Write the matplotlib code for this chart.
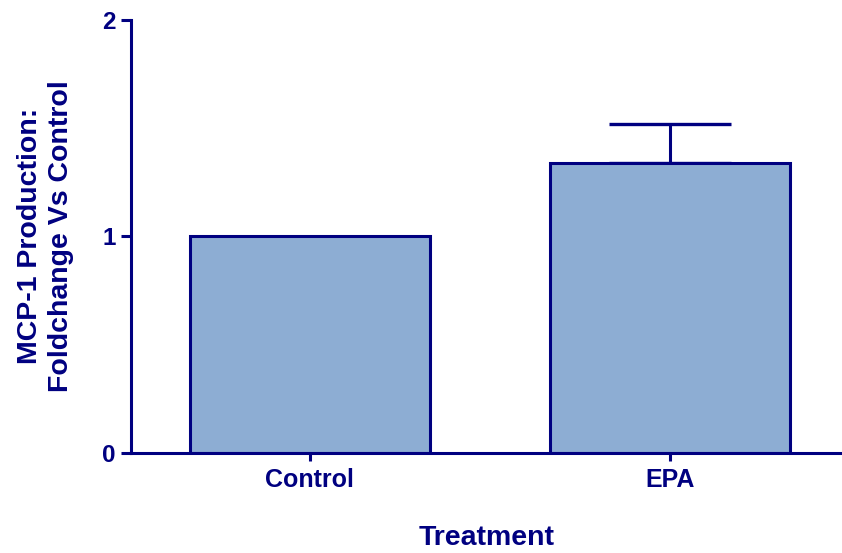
import matplotlib
matplotlib.use('Agg')
import matplotlib.pyplot as plt

groups = ['Control', 'EPA']
fold = [1.0, 1.34]
sem = [0.0, 0.18]
yticks = [0, 1, 2]

navy = '#000080'
fill = '#8dadd3'

plt.rcParams['font.family'] = ['Liberation Sans', 'DejaVu Sans']
plt.rcParams['font.weight'] = 'bold'

fig = plt.figure(figsize=(8.42, 5.53), dpi=100)
ax = fig.add_axes([131/842, 1-452.7/553, 1-131/842, (452.7-20)/553])

x = list(range(len(groups)))
ax.bar(x, fold, width=0.667, color=fill, edgecolor=navy, linewidth=2.2, zorder=2)
ax.errorbar(x[1:], fold[1:], yerr=[[0], sem[1:]], fmt='none', ecolor=navy,
            elinewidth=2.2, capsize=44, capthick=2.4, zorder=1)

ax.set_xlim(-0.497, 1.478)
ax.set_ylim(0, 2)
ax.set_yticks(yticks)
ax.set_xticks(x)
ax.set_xticklabels(groups)

for s in ['top', 'right']:
    ax.spines[s].set_visible(False)
for s in ['left', 'bottom']:
    ax.spines[s].set_color(navy)
    ax.spines[s].set_linewidth(2.2)

ax.tick_params(axis='y', colors=navy, length=7, width=2.2, pad=4, labelsize=17.5)
ax.tick_params(axis='x', colors=navy, length=6, width=2.2, pad=5, labelsize=18)
for t in ax.get_xticklabels() + ax.get_yticklabels():
    t.set_fontweight('bold')

ax.set_xlabel('Treatment', fontsize=20.5, fontweight='bold', color=navy, labelpad=24)
ax.set_ylabel('MCP-1 Production:\nFoldchange Vs Control', fontsize=20.5,
              fontweight='bold', color=navy, labelpad=20, linespacing=1.25)

fig.savefig('out.png', dpi=100)
